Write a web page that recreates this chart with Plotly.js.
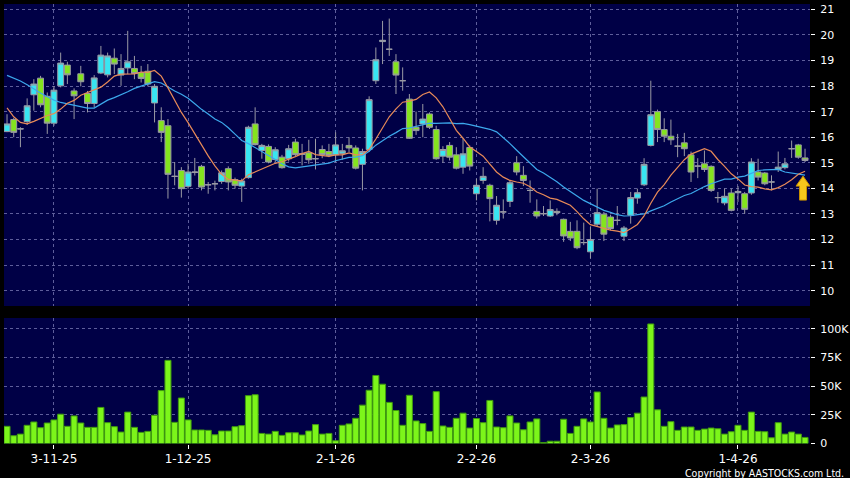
<!DOCTYPE html>
<html>
<head>
<meta charset="utf-8">
<script src="https://cdn.plot.ly/plotly-3.0.1.min.js"></script>
<style>
  html, body { margin: 0; padding: 0; background: #000; }
  #chart { width: 850px; height: 478px; }
</style>
</head>
<body>
<div id="chart"></div>
<script>
// ---- Data ----
const openP = [
16.22,16.69,16.32,16.61,17.66,18.31,17.60,16.55,18.01,18.82,
17.81,18.48,17.71,17.32,18.51,18.44,19.09,18.43,18.71,18.69,
18.53,18.58,17.34,16.65,16.45,14.47,14.70,14.08,14.62,14.86,
14.14,14.18,14.27,14.77,14.34,14.09,14.42,16.52,15.48,15.64,
15.13,15.22,15.16,15.81,15.33,15.39,15.16,15.52,15.44,15.31,
15.36,15.68,15.58,14.94,15.52,18.21,19.74,19.44,18.95,18.21,
17.49,16.39,16.52,16.91,16.30,15.26,15.68,15.31,14.83,15.60,
13.79,14.31,14.12,12.75,13.08,13.49,15.00,14.51,13.92,13.10,
13.01,12.92,13.10,12.79,12.32,12.32,11.88,11.52,12.60,12.99,
12.88,12.75,12.13,12.95,13.62,14.14,15.68,17.00,16.30,16.04,
15.65,15.78,15.31,14.87,14.96,14.86,13.64,13.43,13.82,13.83,
13.79,13.82,14.64,14.60,14.25,14.74,14.81,15.55,15.70,15.19];
const highP = [
16.90,16.75,16.39,17.52,18.27,18.40,17.75,18.00,19.31,18.95,
17.91,18.79,17.81,18.43,19.57,19.31,19.47,19.25,20.16,19.18,
18.79,18.86,18.08,17.17,16.71,15.03,14.83,14.96,15.19,14.92,
14.25,14.30,14.70,14.86,14.42,14.38,16.45,17.17,15.74,15.72,
15.61,15.31,15.70,15.94,15.74,15.90,15.94,15.68,15.74,16.19,
15.74,16.00,15.68,15.55,17.60,19.51,20.55,20.64,19.25,18.73,
17.69,17.00,17.30,16.97,16.45,15.65,15.81,15.61,15.96,15.68,
14.38,14.83,14.18,13.70,13.57,14.31,15.26,14.87,14.31,13.57,
13.31,13.53,13.22,12.82,12.69,12.75,12.66,12.49,13.99,13.08,
12.97,13.31,12.53,13.86,13.99,15.18,18.21,17.08,16.74,16.69,
16.13,16.17,15.44,15.18,15.48,14.90,13.86,13.99,13.99,14.09,
13.86,15.18,15.16,14.64,14.51,15.44,15.19,15.87,15.74,15.55];
const lowP = [
16.20,16.00,15.61,16.48,17.04,17.17,16.13,16.45,17.95,18.08,
16.71,17.99,16.97,17.17,18.47,18.34,18.47,18.01,18.47,18.27,
18.14,17.99,16.58,15.81,13.60,14.12,13.64,13.99,14.50,13.92,
13.79,13.92,14.18,13.92,13.99,13.47,14.38,15.68,15.16,14.98,
15.03,14.77,15.05,15.26,14.90,14.96,14.74,15.18,15.22,15.03,
15.12,15.42,14.74,13.92,15.42,18.08,18.86,19.18,17.69,17.82,
15.94,16.09,16.00,16.32,15.12,15.00,15.09,14.74,14.57,14.70,
13.53,14.18,12.71,12.58,12.82,13.27,14.51,14.09,13.44,12.82,
12.92,12.88,12.95,11.91,11.94,11.62,11.78,11.26,12.49,11.94,
12.36,12.56,11.94,12.62,13.40,14.09,15.64,15.81,15.81,15.70,
15.22,15.26,14.25,14.40,14.64,13.86,13.44,13.34,13.10,13.47,
13.01,13.75,14.31,14.12,13.92,14.64,14.74,15.19,15.16,15.03];
const closeP = [
16.52,16.19,16.33,17.23,18.08,17.27,16.55,17.84,18.90,18.44,
17.62,18.17,17.32,18.32,19.21,19.18,18.86,18.69,18.95,18.49,
18.30,18.08,17.99,16.19,14.55,14.47,13.99,14.64,14.64,14.05,
14.14,14.18,14.61,14.25,14.12,14.29,16.39,15.71,15.68,15.03,
15.51,14.81,15.55,15.32,15.35,15.12,15.16,15.32,15.29,15.70,
15.47,15.58,14.79,15.44,17.47,19.03,19.79,19.44,18.43,18.21,
15.96,16.26,16.71,16.39,15.16,15.52,15.22,14.79,15.35,14.87,
14.12,14.47,13.60,13.34,13.08,14.22,14.64,14.31,13.92,12.92,
13.01,13.17,13.05,12.14,12.06,11.68,11.88,12.00,13.05,12.21,
12.43,12.75,12.45,13.64,13.83,14.94,16.88,16.30,16.04,15.90,
15.65,15.55,14.64,14.87,14.74,13.92,13.64,13.69,13.14,13.88,
13.18,15.03,14.44,14.18,14.25,14.83,14.96,15.55,15.22,15.09];
const ma10 = [
17.15,16.80,16.58,16.52,16.62,16.75,16.85,16.92,17.10,17.33,
17.44,17.64,17.74,17.85,17.96,18.16,18.39,18.47,18.48,18.48,
18.55,18.54,18.61,18.39,17.93,17.46,16.97,16.57,16.13,15.69,
15.27,14.88,14.55,14.35,14.31,14.29,14.53,14.64,14.74,14.84,
14.98,15.04,15.13,15.24,15.36,15.45,15.32,15.29,15.25,15.31,
15.31,15.39,15.31,15.32,15.53,15.93,16.39,16.80,17.11,17.37,
17.41,17.48,17.67,17.77,17.54,17.19,16.73,16.27,15.96,15.62,
15.44,15.26,14.95,14.64,14.44,14.31,14.25,14.20,14.06,13.86,
13.75,13.62,13.57,13.45,13.34,13.09,12.81,12.58,12.50,12.43,
12.37,12.33,12.27,12.42,12.59,12.92,13.42,13.85,14.15,14.52,
14.84,15.12,15.34,15.46,15.55,15.45,15.13,14.86,14.57,14.37,
14.13,14.07,14.05,13.98,13.94,14.03,14.16,14.34,14.55,14.67];
const ma20 = [
18.42,18.32,18.20,18.05,17.88,17.73,17.58,17.45,17.36,17.30,
17.24,17.20,17.14,17.14,17.30,17.45,17.55,17.65,17.78,17.91,
18.00,18.09,18.17,18.12,17.95,17.81,17.68,17.52,17.31,17.09,
16.91,16.71,16.58,16.37,16.12,15.87,15.75,15.60,15.44,15.27,
15.13,14.96,14.84,14.80,14.84,14.87,14.93,14.96,14.99,15.08,
15.14,15.21,15.22,15.28,15.45,15.69,15.86,16.04,16.18,16.34,
16.36,16.43,16.49,16.55,16.54,16.56,16.56,16.53,16.54,16.49,
16.43,16.37,16.31,16.21,15.99,15.75,15.49,15.23,15.01,14.74,
14.60,14.44,14.26,14.05,13.89,13.70,13.53,13.39,13.28,13.14,
13.06,12.97,12.92,12.93,12.97,13.00,13.12,13.22,13.32,13.47,
13.60,13.72,13.80,13.94,14.07,14.18,14.27,14.36,14.36,14.44,
14.48,14.60,14.70,14.72,14.74,14.74,14.64,14.60,14.56,14.52];
const volume = [
15000,6800,8200,15900,18800,13800,17900,20600,25600,15000,
24100,17900,14100,14100,31500,18200,14700,10000,27400,14100,
9700,10600,24700,46200,72600,18500,39700,20600,11800,11800,
11500,7600,10900,10900,14700,15600,41800,42600,8800,8200,
10600,7100,9400,9400,7400,10900,16500,8200,8800,2400,
15900,17100,22000,33500,46500,59400,51800,35900,28800,15900,
42100,19700,17400,10600,45300,15300,14100,22000,26500,13500,
21800,18200,37600,14400,13800,24100,17900,12000,18800,21500,
900,2000,2000,21200,8800,15000,21500,18800,45000,22000,
13500,16200,16500,22600,26500,40600,104400,29400,15000,19100,
11500,14400,14400,11500,12600,13500,12900,8200,10300,15900,
11500,27400,10600,10300,5000,18200,8200,10000,8200,5300];
const dateTickIdx = [7, 27, 49, 70, 87, 109];
const dateTickText = ['3-11-25', '1-12-25', '2-1-26', '2-2-26', '2-3-26', '1-4-26'];
const priceTicks = [10, 11, 12, 13, 14, 15, 16, 17, 18, 19, 20, 21];
const volTicks = [0, 25000, 50000, 75000, 100000];
const volTickText = ['0', '25K', '50K', '75K', '100K'];

// ---- Chart ----
const idx = closeP.map((_, i) => i);
const W = 850, H = 478;
const xDom = [4 / W, 810 / W];
const xRange = [-0.45, 119.74];
const grid = 'rgba(110,110,170,0.85)';
const GRAY = '#9a9aa4';
const lastIdx = idx[idx.length - 1];

const traces = [
  {
    type: 'candlestick', x: idx, open: openP, high: highP, low: lowP, close: closeP,
    xaxis: 'x', yaxis: 'y',
    increasing: { fillcolor: '#38e6f2', line: { color: GRAY, width: 1 } },
    decreasing: { fillcolor: '#84e41e', line: { color: GRAY, width: 1 } },
    whiskerwidth: 0, hoverinfo: 'skip'
  },
  {
    type: 'scatter', mode: 'lines', x: idx, y: ma20, xaxis: 'x', yaxis: 'y',
    line: { color: '#3ca8ec', width: 1.2 }, hoverinfo: 'skip'
  },
  {
    type: 'scatter', mode: 'lines', x: idx, y: ma10, xaxis: 'x', yaxis: 'y',
    line: { color: '#e88a58', width: 1.2 }, hoverinfo: 'skip'
  },
  {
    type: 'bar', x: idx, y: volume, xaxis: 'x2', yaxis: 'y2',
    marker: { color: '#7cf51a', line: { color: '#3f9a10', width: 1 } },
    hoverinfo: 'skip'
  }
];

const layout = {
  width: W, height: H,
  paper_bgcolor: '#000000',
  plot_bgcolor: '#000046',
  margin: { l: 0, r: 0, t: 0, b: 0 },
  showlegend: false,
  hovermode: false,
  dragmode: false,
  bargap: 0.1,
  boxgap: 0.12,
  boxgroupgap: 0,
  font: { family: 'DejaVu Sans, Verdana, sans-serif', color: '#ffffff', size: 11 },
  xaxis: {
    domain: xDom, range: xRange, anchor: 'y',
    tickvals: dateTickIdx, showticklabels: false, ticks: '',
    showgrid: true, gridcolor: grid, griddash: 'dot', gridwidth: 1,
    zeroline: false, showline: false,
    rangeslider: { visible: false }, fixedrange: true
  },
  yaxis: {
    domain: [1 - 306 / H, 1 - 4 / H], range: [9.40, 21.21], anchor: 'x', side: 'right',
    tickvals: priceTicks, ticks: 'outside', ticklen: 4, tickcolor: '#ffffff',
    ticklabelstandoff: 3,
    tickfont: { size: 11, color: '#ffffff' },
    showgrid: true, gridcolor: grid, griddash: 'dot', gridwidth: 1,
    zeroline: false, showline: false, fixedrange: true
  },
  xaxis2: {
    domain: xDom, range: xRange, anchor: 'y2',
    tickvals: dateTickIdx, ticktext: dateTickText,
    ticks: 'outside', ticklen: 4, tickcolor: '#ffffff',
    tickfont: { size: 12, color: '#ffffff' },
    showgrid: true, gridcolor: grid, griddash: 'dot', gridwidth: 1,
    zeroline: false, showline: false, fixedrange: true
  },
  yaxis2: {
    domain: [1 - 443.5 / H, 1 - 318 / H], range: [0, 109600], anchor: 'x2', side: 'right',
    tickvals: volTicks, ticktext: volTickText,
    ticks: 'outside', ticklen: 4, tickcolor: '#ffffff',
    ticklabelstandoff: 3,
    tickfont: { size: 11, color: '#ffffff' },
    showgrid: true, gridcolor: grid, griddash: 'dot', gridwidth: 1,
    zeroline: false, showline: false, fixedrange: true
  },
  shapes: [
    {
      // yellow "up" marker beside the last candle, tip at the latest MA level
      type: 'path', xref: 'x', yref: 'y',
      xsizemode: 'pixel', ysizemode: 'pixel',
      xanchor: lastIdx - 0.3, yanchor: ma20[ma20.length - 1] - 0.04,
      path: 'M0,0 L7,-10 L3.5,-10 L3.5,-24 L-3.5,-24 L-3.5,-10 L-7,-10 Z',
      fillcolor: '#f6c61c', line: { color: '#c89000', width: 1 }
    }
  ],
  annotations: [
    {
      xref: 'paper', yref: 'paper', x: 846 / W, y: 1 - 472.5 / H,
      xanchor: 'right', yanchor: 'middle', showarrow: false,
      text: 'Copyright by AASTOCKS.com Ltd.',
      font: { family: 'DejaVu Sans Condensed, DejaVu Sans, sans-serif', size: 10.5, color: '#ffffff' }
    }
  ]
};

Plotly.newPlot('chart', traces, layout, { displayModeBar: false, staticPlot: true });
</script>
</body>
</html>
